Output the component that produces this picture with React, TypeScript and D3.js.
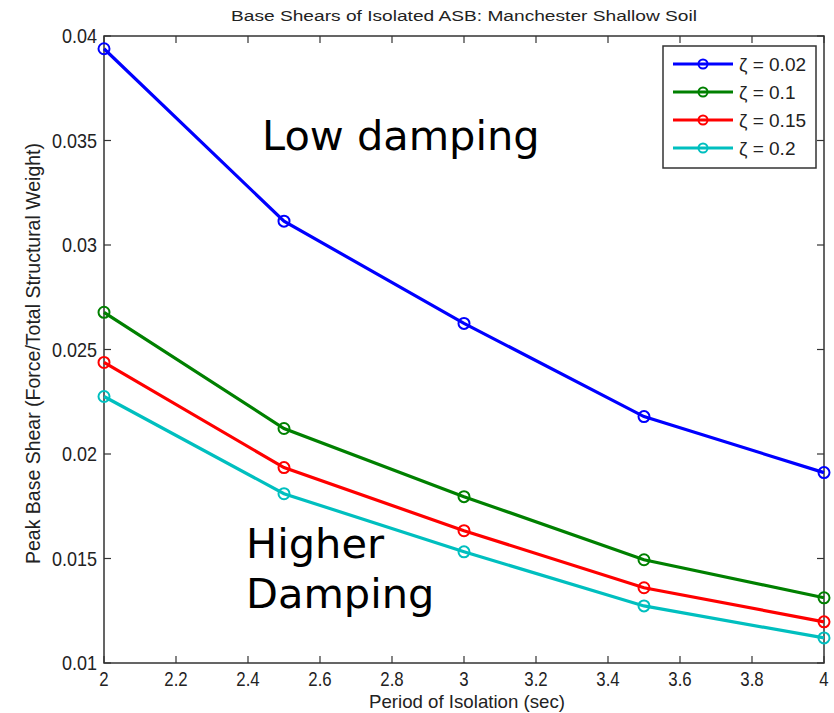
import React from 'react'
import * as d3 from 'd3'

const periods = [2, 2.5, 3, 3.5, 4]
const dampingLabels = ['ζ = 0.02', 'ζ = 0.1', 'ζ = 0.15', 'ζ = 0.2']
const colors = ['#0000ff', '#008000', '#ff0000', '#00bfbf']
const shear002 = [0.03939, 0.03114, 0.02625, 0.02179, 0.01911]
const shear01 = [0.02678, 0.02122, 0.01796, 0.01494, 0.01312]
const shear015 = [0.02438, 0.01935, 0.01633, 0.0136, 0.01197]
const shear02 = [0.02275, 0.0181, 0.01532, 0.01273, 0.0112]
const xTicks = [2, 2.2, 2.4, 2.6, 2.8, 3, 3.2, 3.4, 3.6, 3.8, 4]
const yTicks = [0.01, 0.015, 0.02, 0.025, 0.03, 0.035, 0.04]

const W = 834
const H = 713
const m = { left: 104, right: 824, top: 36, bottom: 663 }
const axisFont = '"Liberation Sans", Arial, sans-serif'
const noteFont = '"DejaVu Sans", Verdana, sans-serif'

// matlab-ish narrow label: squeeze along the baseline
const Lbl = ({ x, y, rot = 0, sx = 0.84, size = 20, anchor = 'middle', children }: any) => (
  <text transform={`translate(${x},${y}) rotate(${rot}) scale(${sx},1)`} textAnchor={anchor}
    fontFamily={axisFont} fontSize={size} fill="#222">
    {children}
  </text>
)

const App = () => {
  const x = d3.scaleLinear().domain([2, 4]).range([m.left, m.right])
  const y = d3.scaleLinear().domain([0.01, 0.04]).range([m.bottom, m.top])
  const series = [shear002, shear01, shear015, shear02]
  const line = d3.line<number>()
    .x((_, i) => x(periods[i]))
    .y(d => y(d))
  const tl = 7
  const fmtX = (v: number) => d3.format('~g')(v)
  const fmtY = (v: number) => String(+v.toFixed(3))

  // legend box
  const lg = { x0: 663, x1: 816, y0: 46, y1: 168, rowY: [64, 92, 120, 148] }

  return (
    <svg width={W} height={H} style={{ position: 'absolute', left: 0, top: 0, background: '#fff' }}>
      <rect width={W} height={H} fill="#fff" />
      <text x={231} y={21} textLength={466} lengthAdjust="spacingAndGlyphs" fontFamily={axisFont}
        fontSize={15.5} fill="#222">
        Base Shears of Isolated ASB: Manchester Shallow Soil
      </text>

      {/* axes box + ticks */}
      <rect x={m.left} y={m.top} width={m.right - m.left} height={m.bottom - m.top}
        fill="none" stroke="#333" strokeWidth={1.5} />
      {xTicks.map(t => (
        <g key={'x' + t}>
          <line x1={x(t)} x2={x(t)} y1={m.bottom} y2={m.bottom - tl} stroke="#333" strokeWidth={1.2} />
          <line x1={x(t)} x2={x(t)} y1={m.top} y2={m.top + tl} stroke="#333" strokeWidth={1.2} />
          <Lbl x={x(t)} y={686}>{fmtX(t)}</Lbl>
        </g>
      ))}
      {yTicks.map(t => (
        <g key={'y' + t}>
          <line x1={m.left} x2={m.left + tl} y1={y(t)} y2={y(t)} stroke="#333" strokeWidth={1.2} />
          <line x1={m.right} x2={m.right - tl} y1={y(t)} y2={y(t)} stroke="#333" strokeWidth={1.2} />
          <Lbl x={97} y={y(t) + 7} anchor="end" sx={0.9}>{fmtY(t)}</Lbl>
        </g>
      ))}
      <text x={369} y={708} textLength={196} lengthAdjust="spacingAndGlyphs"
        fontFamily={axisFont} fontSize={19} fill="#222">
        Period of Isolation (sec)
      </text>
      <text transform={`translate(40,564) rotate(-90)`} textLength={421} lengthAdjust="spacingAndGlyphs"
        fontFamily={axisFont} fontSize={20} fill="#222">
        Peak Base Shear (Force/Total Structural Weight)
      </text>

      {/* series */}
      {series.map((s, k) => (
        <g key={'s' + k}>
          <path d={line(s) || ''} fill="none" stroke={colors[k]} strokeWidth={3.2} />
          {s.map((v, i) => (
            <circle key={i} cx={x(periods[i])} cy={y(v)} r={5.5} fill="none" stroke={colors[k]} strokeWidth={2} />
          ))}
        </g>
      ))}

      {/* annotations */}
      <text x={262} y={150} fontFamily={noteFont} fontSize={41.5} fill="#000">Low damping</text>
      <text x={246} y={558} fontFamily={noteFont} fontSize={41.5} fill="#000">Higher</text>
      <text x={246} y={608} fontFamily={noteFont} fontSize={41.5} fill="#000">Damping</text>

      {/* legend */}
      <rect x={lg.x0} y={lg.y0} width={lg.x1 - lg.x0} height={lg.y1 - lg.y0} fill="#fff" stroke="#333" strokeWidth={1.5} />
      {dampingLabels.map((lab, k) => (
        <g key={'l' + k}>
          <line x1={673} x2={733} y1={lg.rowY[k]} y2={lg.rowY[k]} stroke={colors[k]} strokeWidth={3} />
          <circle cx={703} cy={lg.rowY[k]} r={4.5} fill="none" stroke={colors[k]} strokeWidth={2} />
          <text x={739} y={lg.rowY[k] + 7} fontFamily={axisFont} fontSize={19} fill="#222">{lab}</text>
        </g>
      ))}
    </svg>
  )
}

export default App
